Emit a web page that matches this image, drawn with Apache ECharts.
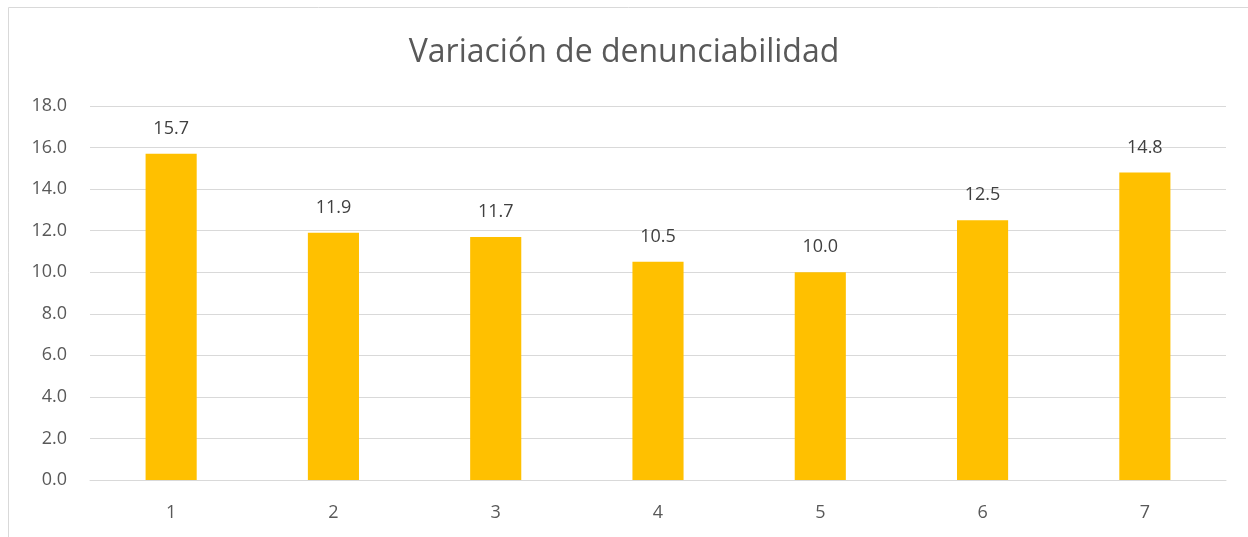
<!DOCTYPE html>
<html>
<head>
<meta charset="utf-8">
<script src="https://cdn.jsdelivr.net/npm/echarts@6/dist/echarts.min.js"></script>
<style>
  html, body { margin: 0; padding: 0; background: #fff; }
  #chart { width: 1248px; height: 537px; }
</style>
</head>
<body>
<div id="chart"></div>
<script>
// datos
const categories = ['1', '2', '3', '4', '5', '6', '7'];
const values = [15.7, 11.9, 11.7, 10.5, 10.0, 12.5, 14.8];
const titleText = 'Variación de denunciabilidad';

const chart = echarts.init(document.getElementById('chart'));

chart.setOption({
  animation: false,
  textStyle: { fontFamily: '"Open Sans", "Noto Sans", sans-serif' },
  title: {
    text: titleText,
    left: 'center',
    top: 32,
    textStyle: {
      fontSize: 32,
      fontWeight: 'normal',
      color: '#595959',
      fontFamily: '"Open Sans", "Noto Sans", sans-serif'
    }
  },
  // borde del gráfico
  graphic: [{
    type: 'rect',
    shape: { x: 8.5, y: 7.5, width: 1300, height: 600 },
    style: { fill: 'none', stroke: '#d9d9d9', lineWidth: 1 },
    silent: true
  }],
  grid: {
    left: 90,
    right: 22,
    top: 106,
    bottom: 57
  },
  xAxis: {
    type: 'category',
    data: categories,
    axisLine: { lineStyle: { color: '#d9d9d9', width: 1 } },
    axisTick: { show: false },
    axisLabel: { color: '#595959', fontSize: 18, margin: 24 }
  },
  yAxis: {
    type: 'value',
    min: 0,
    max: 18,
    interval: 2,
    axisLine: { show: false },
    axisTick: { show: false },
    splitLine: { lineStyle: { color: '#d9d9d9', width: 1 } },
    axisLabel: {
      color: '#595959',
      fontSize: 18,
      margin: 23,
      formatter: function (v) { return v.toFixed(1); }
    }
  },
  series: [{
    type: 'bar',
    data: values,
    barWidth: '31.5%',
    itemStyle: { color: '#FFC000' },
    label: {
      show: true,
      position: 'top',
      distance: 16,
      color: '#404040',
      fontSize: 18,
      formatter: function (p) { return p.value.toFixed(1); }
    }
  }]
});
</script>
</body>
</html>
